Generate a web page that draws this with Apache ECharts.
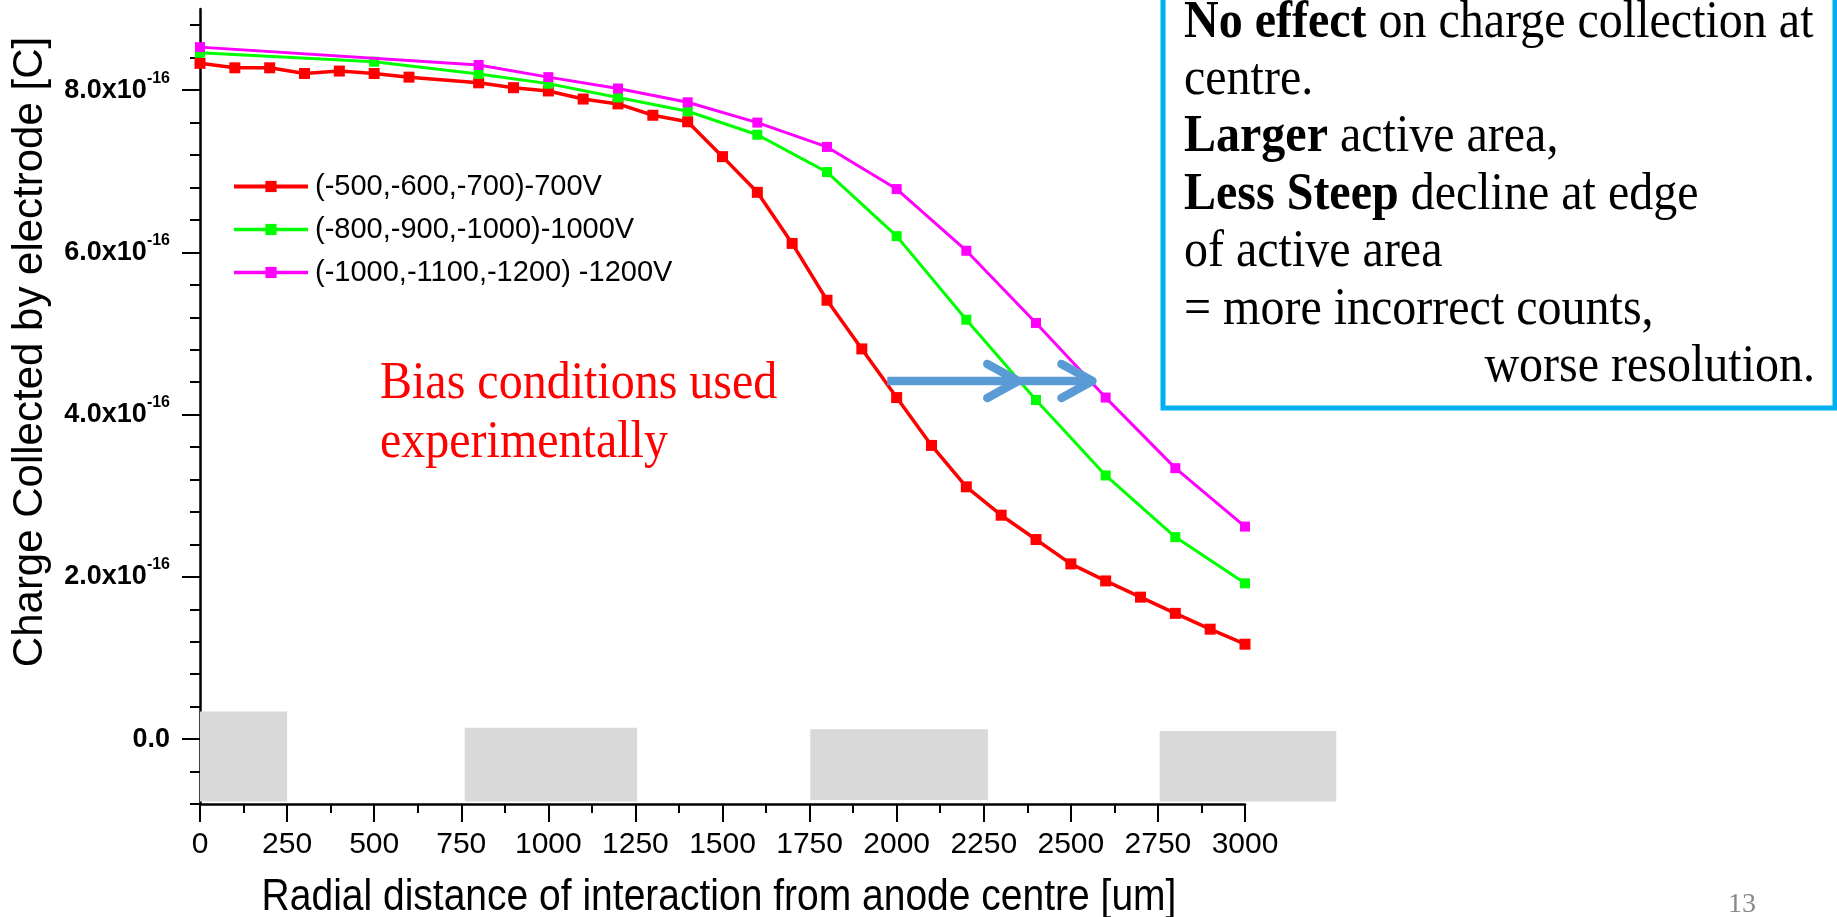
<!DOCTYPE html>
<html>
<head>
<meta charset="utf-8">
<script src="https://cdn.jsdelivr.net/npm/echarts@6/dist/echarts.min.js"></script>
<style>
  html, body { margin: 0; padding: 0; background: #fff; }
  #chart { width: 1837px; height: 917px; }
</style>
</head>
<body>
<div id="chart"></div>
<script>
// Radial position of the interaction [um] and collected charge [x10^-16 C]
const seriesNames = ['(-500,-600,-700)-700V', '(-800,-900,-1000)-1000V', '(-1000,-1100,-1200) -1200V'];

const radius700 = [0, 100, 200, 300, 400, 500, 600, 800, 900, 1000, 1100, 1200, 1300, 1400, 1500,
                   1600, 1700, 1800, 1900, 2000, 2100, 2200, 2300, 2400, 2500, 2600, 2700, 2800, 2900, 3000];
const charge700 = [8.33, 8.275, 8.275, 8.205, 8.235, 8.205, 8.16, 8.09, 8.03, 7.99, 7.89, 7.83, 7.69, 7.61, 7.18,
                   6.74, 6.11, 5.41, 4.81, 4.21, 3.62, 3.11, 2.76, 2.46, 2.16, 1.95, 1.75, 1.55, 1.355, 1.17];

const radius1000 = [0, 500, 800, 1000, 1200, 1400, 1600, 1800, 2000, 2200, 2400, 2600, 2800, 3000];
const charge1000 = [8.46, 8.35, 8.20, 8.08, 7.91, 7.74, 7.45, 6.99, 6.20, 5.17, 4.18, 3.25, 2.49, 1.92];

const radius1200 = [0, 800, 1000, 1200, 1400, 1600, 1800, 2000, 2200, 2400, 2600, 2800, 3000];
const charge1200 = [8.53, 8.31, 8.16, 8.02, 7.85, 7.60, 7.30, 6.78, 6.02, 5.13, 4.21, 3.34, 2.62];

// Tick positions on the charge axis
const chargeMajorTicks = [0, 2, 4, 6, 8];
const chargeMinorTicks = [-0.8, -0.4, 0.4, 0.8, 1.2, 1.6, 2.4, 2.8, 3.2, 3.6, 4.4, 4.8, 5.2, 5.6,
                          6.4, 6.8, 7.2, 7.6, 8.4, 8.8];

// Electrode pads sketched under the axis (radial extent and height)
const padStart  = [0, 760, 1752, 2755];
const padEnd    = [250, 1255, 2262, 3262];
const padTop    = [0.34, 0.14, 0.12, 0.10];
const padBottom = [-0.77, -0.77, -0.75, -0.77];

// Arrows showing the shift of the edge at a fixed charge level
const arrowFrom  = [1973, 2352];
const arrowTo    = [2352, 2565];
const arrowLevel = 4.415;

const SANS = '"Liberation Sans", Arial, sans-serif';
const SERIF = '"Liberation Serif", "Times New Roman", serif';

const chart = echarts.init(document.getElementById('chart'), null, { renderer: 'canvas' });

function pairs(xs, ys) { return xs.map((x, i) => [x, ys[i]]); }

const lineColors = ['#FF0000', '#00FF00', '#FF00FF'];
const lineWidths = [3.5, 3, 3];
const markerSizes = [11, 10, 10];
const lineData = [pairs(radius700, charge700), pairs(radius1000, charge1000), pairs(radius1200, charge1200)];

const lineSeries = lineData.map((d, i) => ({
  type: 'line',
  name: seriesNames[i],
  data: d,
  xAxisIndex: 0,
  yAxisIndex: 0,
  symbol: 'rect',
  symbolSize: markerSizes[i],
  showSymbol: true,
  lineStyle: { color: lineColors[i], width: lineWidths[i] },
  itemStyle: { color: lineColors[i] },
  z: 3 + i
}));

const padSeries = {
  type: 'custom',
  xAxisIndex: 0,
  yAxisIndex: 0,
  clip: false,
  silent: true,
  z: 1,
  encode: { x: [0, 1], y: [2, 3] },
  data: padStart.map((s, i) => [s, padEnd[i], padTop[i], padBottom[i]]),
  renderItem(params, api) {
    const p0 = api.coord([api.value(0), api.value(2)]);
    const p1 = api.coord([api.value(1), api.value(3)]);
    return {
      type: 'rect',
      shape: { x: p0[0], y: p0[1], width: p1[0] - p0[0], height: p1[1] - p0[1] },
      style: { fill: '#D9D9D9' }
    };
  }
};

const arrowSeries = {
  type: 'custom',
  xAxisIndex: 0,
  yAxisIndex: 0,
  clip: false,
  silent: true,
  z: 10,
  encode: { x: [0, 1], y: 2 },
  data: arrowFrom.map((a, i) => [a, arrowTo[i], arrowLevel]),
  renderItem(params, api) {
    const a = api.coord([api.value(0), api.value(2)]);
    const b = api.coord([api.value(1), api.value(2)]);
    const stroke = '#5B9BD5';
    return {
      type: 'group',
      children: [
        { type: 'line', shape: { x1: a[0], y1: a[1], x2: b[0] - 3, y2: b[1] },
          style: { stroke, lineWidth: 8.5 } },
        { type: 'polyline',
          shape: { points: [[b[0] - 32, b[1] - 17], [b[0] - 1, b[1]], [b[0] - 32, b[1] + 17]] },
          style: { stroke, lineWidth: 8.5, lineCap: 'round', lineJoin: 'round', fill: null } }
      ]
    };
  }
};

function noteLine(text, x, y, align) {
  return {
    type: 'text', x, y, z: 20, scaleY: 1.1,
    style: {
      text, fill: '#000', fontFamily: SERIF, fontSize: 48, align: align || 'left', verticalAlign: 'middle',
      rich: { b: { fontFamily: SERIF, fontSize: 48, fontWeight: 'bold', fill: '#000' } }
    }
  };
}

const option = {
  animation: false,
  backgroundColor: '#ffffff',
  grid: { left: 200, right: 592, top: 9, bottom: 113, containLabel: false },
  legend: {
    orient: 'vertical',
    left: 232,
    top: 172,
    padding: 0,
    itemWidth: 74,
    itemHeight: 14,
    itemGap: 14,
    data: seriesNames.map((n, i) => ({ name: n, lineStyle: { width: i === 0 ? 4 : 3.5 } })),
    textStyle: { fontFamily: SANS, fontSize: 29, color: '#000', padding: [0, 0, 0, 2] }
  },
  xAxis: [{
    type: 'value',
    min: 0,
    max: 3000,
    interval: 250,
    axisLine: { show: true, onZero: false, lineStyle: { color: '#000', width: 2.5 } },
    axisTick: { show: true, inside: false, length: 18, lineStyle: { color: '#000', width: 2 } },
    minorTick: { show: true, splitNumber: 2, length: 9, lineStyle: { color: '#000', width: 2 } },
    axisLabel: { color: '#000', fontFamily: SANS, fontSize: 30, margin: 26, formatter: v => String(v) },
    splitLine: { show: false },
    minorSplitLine: { show: false }
  }],
  yAxis: [{
    type: 'value',
    min: -0.8,
    max: 9.0,
    position: 'left',
    axisLine: { show: true, onZero: false, lineStyle: { color: '#000', width: 2.5 } },
    axisTick: { show: true, length: 18, customValues: chargeMajorTicks, lineStyle: { color: '#000', width: 2 } },
    axisLabel: {
      customValues: chargeMajorTicks,
      margin: 30,
      color: '#000',
      fontFamily: SANS,
      fontSize: 27,
      fontWeight: 'bold',
      lineHeight: 40,
      formatter(v) {
        const n = Math.round(v * 10) / 10;
        if (n === 0) return '0.0';
        return n.toFixed(1) + 'x10{e|-16}';
      },
      rich: {
        e: { fontFamily: SANS, fontSize: 16, fontWeight: 'bold', color: '#000', lineHeight: 16, verticalAlign: 'top' }
      }
    },
    splitLine: { show: false }
  }, {
    type: 'value',
    min: -0.8,
    max: 9.0,
    position: 'left',
    offset: 0,
    axisLine: { show: false, onZero: false },
    axisTick: { show: true, length: 10, customValues: chargeMinorTicks, lineStyle: { color: '#000', width: 2 } },
    axisLabel: { show: false },
    splitLine: { show: false }
  }],
  series: [padSeries, ...lineSeries, arrowSeries],
  graphic: [
    { type: 'text', x: 30, y: 352, rotation: Math.PI / 2, z: 20,
      style: { text: 'Charge Collected by electrode [C]', fontFamily: SANS, fontSize: 42, fill: '#000',
               align: 'center', verticalAlign: 'middle' } },
    { type: 'text', x: 719, y: 898, z: 20, scaleY: 1.12,
      style: { text: 'Radial distance of interaction from anode centre [um]', fontFamily: SANS, fontSize: 39,
               fill: '#000', align: 'center', verticalAlign: 'middle' } },
    { type: 'text', x: 380, y: 384, z: 20, scaleY: 1.1,
      style: { text: 'Bias conditions used', fontFamily: SERIF, fontSize: 48, fill: '#FF0000', verticalAlign: 'middle' } },
    { type: 'text', x: 380, y: 443, z: 20, scaleY: 1.1,
      style: { text: 'experimentally', fontFamily: SERIF, fontSize: 48, fill: '#FF0000', verticalAlign: 'middle' } },
    { type: 'rect', z: 19,
      shape: { x: 1163, y: -10, width: 672, height: 418 },
      style: { fill: null, stroke: '#00B0F0', lineWidth: 5 } },
    noteLine('{b|No effect} on charge collection at', 1184, 23),
    noteLine('centre.', 1184, 80),
    noteLine('{b|Larger} active area,', 1184, 137),
    noteLine('{b|Less Steep} decline at edge', 1184, 195),
    noteLine('of active area', 1184, 252),
    noteLine('= more incorrect counts,', 1184, 310),
    noteLine('worse resolution.', 1815, 367, 'right'),
    { type: 'text', x: 1728, y: 905, z: 20,
      style: { text: '13', fontFamily: SERIF, fontSize: 28, fill: '#898989', verticalAlign: 'middle' } }
  ]
};

chart.setOption(option);
</script>
</body>
</html>
